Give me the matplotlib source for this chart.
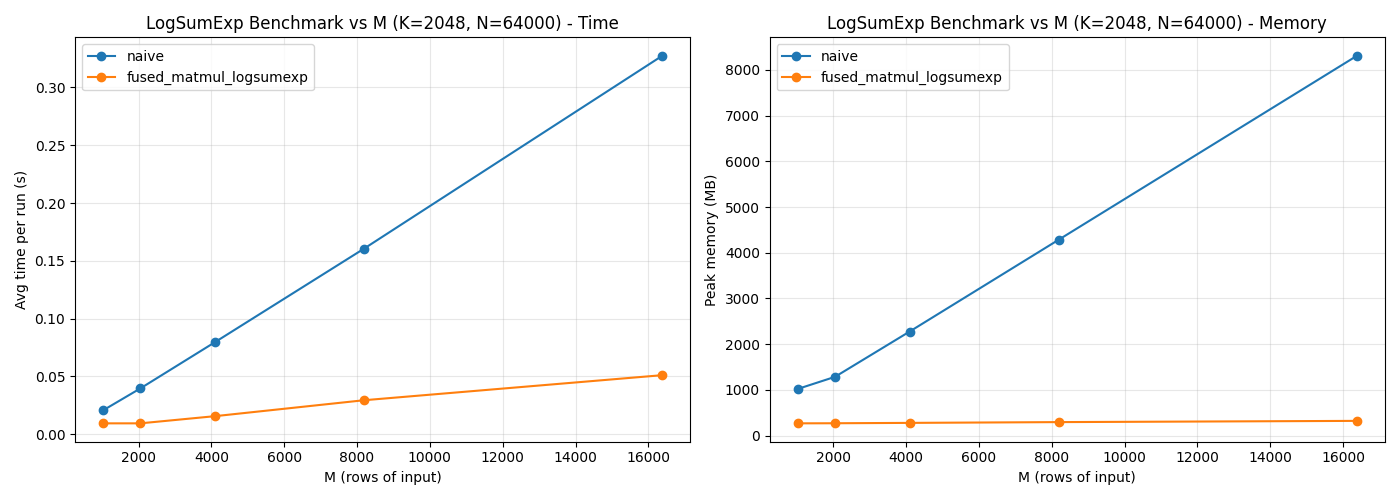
import matplotlib
matplotlib.use("Agg")
import matplotlib.pyplot as plt

M_values = [1024, 2048, 4096, 8192, 16384]
time_naive = [0.0205, 0.0395, 0.0795, 0.1605, 0.3275]
time_fused = [0.0093, 0.0093, 0.0155, 0.0293, 0.0510]
mem_naive = [1020, 1285, 2275, 4285, 8310]
mem_fused = [268, 270, 278, 295, 322]

fig, axes = plt.subplots(1, 2, figsize=(14, 5), dpi=100)

ax = axes[0]
ax.plot(M_values, time_naive, marker="o", label="naive")
ax.plot(M_values, time_fused, marker="o", label="fused_matmul_logsumexp")
ax.set_title("LogSumExp Benchmark vs M (K=2048, N=64000) - Time")
ax.set_xlabel("M (rows of input)")
ax.set_ylabel("Avg time per run (s)")
ax.grid(True, alpha=0.3)
ax.legend(loc="upper left")

ax = axes[1]
ax.plot(M_values, mem_naive, marker="o", label="naive")
ax.plot(M_values, mem_fused, marker="o", label="fused_matmul_logsumexp")
ax.set_title("LogSumExp Benchmark vs M (K=2048, N=64000) - Memory")
ax.set_xlabel("M (rows of input)")
ax.set_ylabel("Peak memory (MB)")
ax.grid(True, alpha=0.3)
ax.legend(loc="upper left")

fig.tight_layout()
fig.savefig("out.png")
